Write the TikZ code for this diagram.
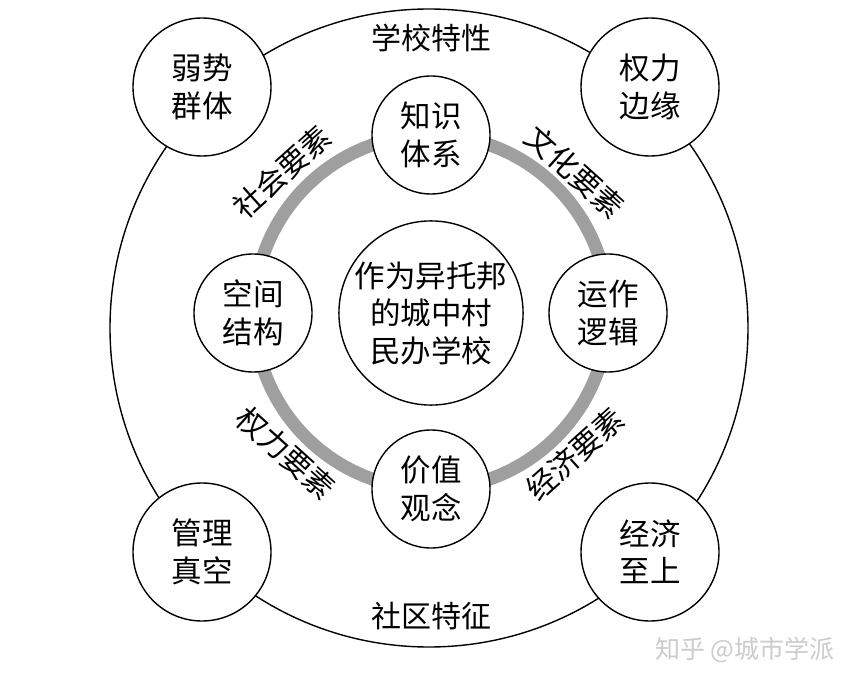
\documentclass[tikz,border=0pt]{standalone}
\usepackage{fontspec}
\setmainfont{Noto Sans CJK SC}
\begin{document}
\begin{tikzpicture}[x=1pt,y=-1pt,
  circ/.style={circle,draw=black,line width=1.4pt,fill=white,inner sep=0pt,align=center,font=\fontsize{30.5}{37.5}\selectfont},
  cornerc/.style={circ,minimum size=138pt},
  midc/.style={circ,minimum size=118pt},
  centc/.style={circ,minimum size=182pt},
  lab/.style={font=\fontsize{30}{34}\selectfont,inner sep=0pt},
  ]
\useasboundingbox (0,0) rectangle (859,684);
\fill[white] (0,0) rectangle (859,684);
\node[circle,draw=black,line width=1.4pt,minimum size=638pt,inner sep=0pt] (outer) at (429,328) {};
\draw[gray!75,line width=13pt] (431,312) circle[radius=177];
% corner circles
\node[cornerc] (ruoshi) at (202,87) {弱势\\群体};
\node[cornerc] (quanli) at (650,87) {权力\\边缘};
\node[cornerc] (guanli) at (202,552) {管理\\真空};
\node[cornerc] (jingji) at (650,552) {经济\\至上};
% middle circles
\node[midc] (zhishi) at (431,135) {知识\\体系};
\node[midc] (kongjian) at (253,313) {空间\\结构};
\node[midc] (yunzuo) at (608,313) {运作\\逻辑};
\node[midc] (jiazhi) at (431,489) {价值\\观念};
% centre
\node[centc] (center) at (431,313) {作为异托邦\\的城中村\\民办学校};
% labels
\node[lab] (xuexiao) at (431,38) {学校特性};
\node[lab] (shequ) at (431,616) {社区特征};
\node[lab,rotate=42] (shehui) at (282,172) {社会要素};
\node[lab,rotate=-42] (wenhua) at (575,172) {文化要素};
\node[lab,rotate=-42] (quanliys) at (286,453) {权力要素};
\node[lab,rotate=42] (jingjiys) at (575,454) {经济要素};
\node[font=\fontsize{25}{28}\selectfont,text=gray!40,inner sep=0pt] (wm) at (745,650) {知乎 @城市学派};
\end{tikzpicture}
\end{document}
